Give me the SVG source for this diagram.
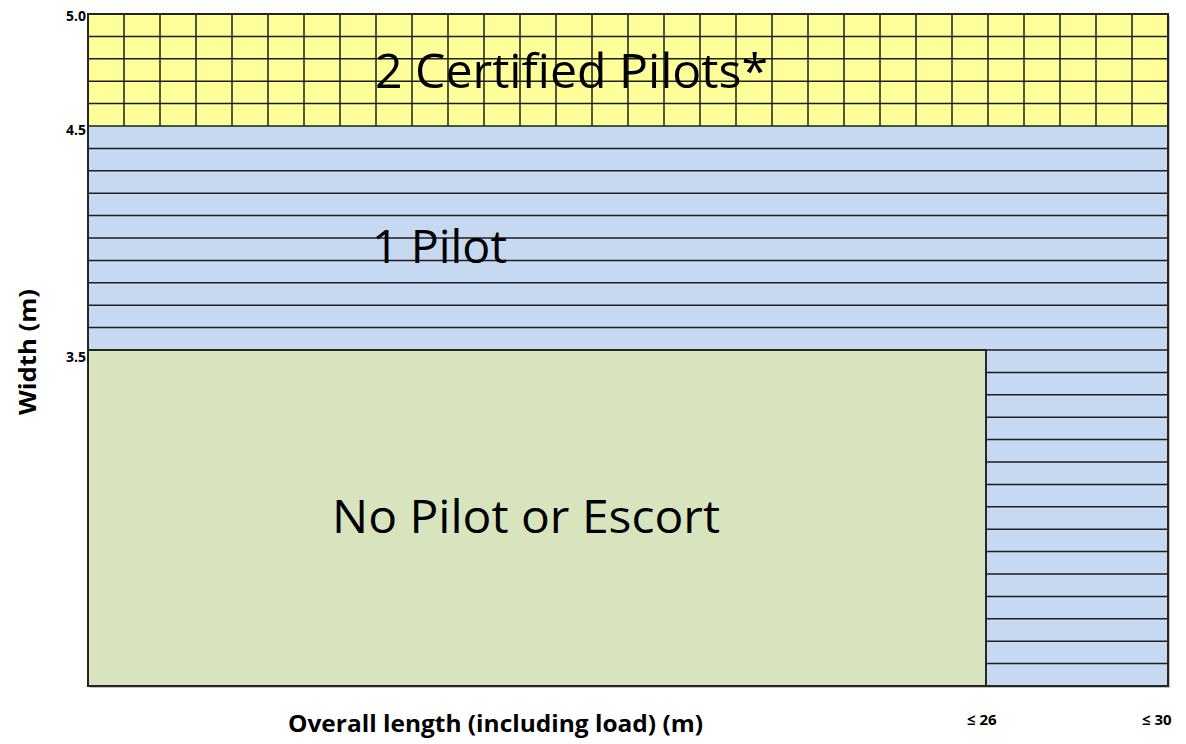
<svg xmlns="http://www.w3.org/2000/svg" width="1186" height="744" viewBox="0 0 1186 744">
  <style>
    .grid { stroke: #1f1f1f; stroke-width: 1.5; fill: none; }
    .border { stroke: #262626; stroke-width: 2; }
    .big { font-family: "Open Sans", "Liberation Sans", sans-serif; fill: #000; }
    .axis { font-family: "Open Sans", "Liberation Sans", sans-serif; font-weight: bold; fill: #000; }
  </style>
  <rect width="1186" height="744" fill="#ffffff"/>
  <!-- shadow -->
  <rect x="90" y="16" width="1080" height="672" fill="#9a9a9a" opacity="0.6"/>

  <g id="blue-region">
    <rect x="88" y="126" width="1080" height="560" fill="#c6d9f1"/>
    <g class="grid">
      <path d="M88 148.4H1168M88 170.8H1168M88 193.2H1168M88 215.6H1168M88 238H1168M88 260.4H1168M88 282.8H1168M88 305.2H1168M88 327.6H1168M88 350H1168"/>
      <path d="M986 372.4H1168M986 394.8H1168M986 417.2H1168M986 439.6H1168M986 462H1168M986 484.4H1168M986 506.8H1168M986 529.2H1168M986 551.6H1168M986 574H1168M986 596.4H1168M986 618.8H1168M986 641.2H1168M986 663.6H1168"/>
    </g>
  </g>

  <g id="yellow-band">
    <rect x="88" y="14" width="1080" height="112" fill="#ffff99"/>
    <g class="grid">
      <path d="M88 36.4H1168M88 58.8H1168M88 81.2H1168M88 103.6H1168M88 126H1168"/>
      <path d="M124 14V126M160 14V126M196 14V126M232 14V126M268 14V126M304 14V126M340 14V126M376 14V126M412 14V126M448 14V126M484 14V126M520 14V126M556 14V126M592 14V126M628 14V126M664 14V126M700 14V126M736 14V126M772 14V126M808 14V126M844 14V126M880 14V126M916 14V126M952 14V126M988 14V126M1024 14V126M1060 14V126M1096 14V126M1132 14V126"/>
    </g>
  </g>

  <g id="green-region">
    <rect x="88" y="350" width="898" height="336" fill="#d7e4bd" class="border"/>
  </g>

  <g id="outer-frame">
    <rect x="88" y="14" width="1080" height="672" fill="none" class="border"/>
  </g>

  <g id="labels">
    <text class="big" x="375" y="88" font-size="48" textLength="393" lengthAdjust="spacingAndGlyphs">2 Certified Pilots*</text>
    <text class="big" x="372" y="263" font-size="46" textLength="135" lengthAdjust="spacingAndGlyphs">1 Pilot</text>
    <text class="big" x="332" y="533" font-size="45" textLength="388" lengthAdjust="spacingAndGlyphs">No Pilot or Escort</text>
  </g>

  <g id="axes">
    <text class="axis" x="86" y="21" font-size="14" text-anchor="end">5.0</text>
    <text class="axis" x="86" y="135" font-size="14" text-anchor="end">4.5</text>
    <text class="axis" x="86" y="362" font-size="14" text-anchor="end">3.5</text>
    <text class="axis" x="967" y="725" font-size="15">≤ 26</text>
    <text class="axis" x="1142" y="725" font-size="15">≤ 30</text>
    <text class="axis" x="288" y="732" font-size="23" textLength="415" lengthAdjust="spacingAndGlyphs">Overall length (including load) (m)</text>
    <text class="axis" transform="translate(36,352) rotate(-90)" x="0" y="0" font-size="24" text-anchor="middle" textLength="126" lengthAdjust="spacingAndGlyphs">Width (m)</text>
  </g>
</svg>
